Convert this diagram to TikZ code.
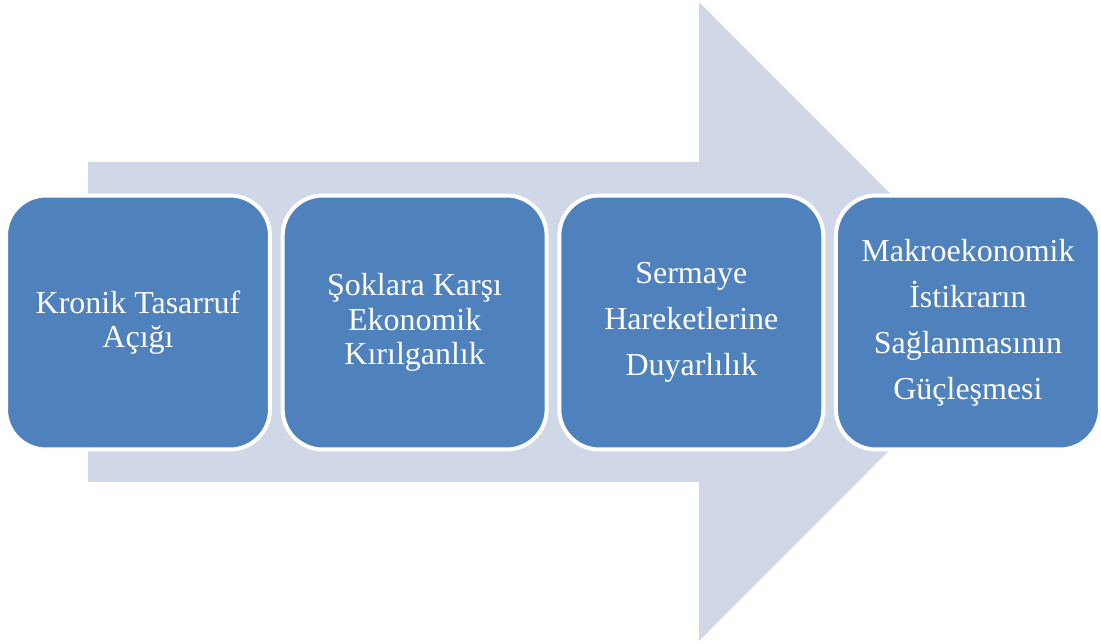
\documentclass[tikz,border=0pt]{standalone}
\usepackage{fontspec}
\setmainfont{Liberation Serif}
\usepackage{tikz}
\usetikzlibrary{positioning}
\usepackage{xcolor}
\definecolor{boxblue}{HTML}{4F81BD}
\definecolor{arrowgray}{HTML}{D0D8E8}
\tikzstyle{stage box}=[rectangle,rounded corners=0.8cm,fill=boxblue,draw=white,
  line width=0.08cm,minimum width=5.28cm,minimum height=5.08cm,
  align=center,text=white,font=\fontsize{18.2}{19.6}\selectfont]
\tikzstyle{loose box}=[stage box,font=\fontsize{18.2}{26.2}\selectfont]

\begin{document}
\begin{tikzpicture}[x=0.02cm,y=-0.02cm]
  \useasboundingbox (0,0) rectangle (1101,644);
  % big background arrow
  \fill[arrowgray] (88,162) -- (699,162) -- (699,2) -- (1018,321.5)
                   -- (699,641) -- (699,482) -- (88,482) -- cycle;
  % the four stages
  \node[stage box] (kronik) at (138,322.5) {Kronik Tasarruf\\Açığı};
  \node[stage box,right=0.174cm of kronik] (sok) {Şoklara Karşı\\Ekonomik\\Kırılganlık};
  \node[loose box,right=0.174cm of sok] (sermaye) {Sermaye\\Hareketlerine\\Duyarlılık};
  \node[loose box,right=0.174cm of sermaye] (makro) {Makroekonomik\\İstikrarın\\Sağlanmasının\\Güçleşmesi};
\end{tikzpicture}
\end{document}
